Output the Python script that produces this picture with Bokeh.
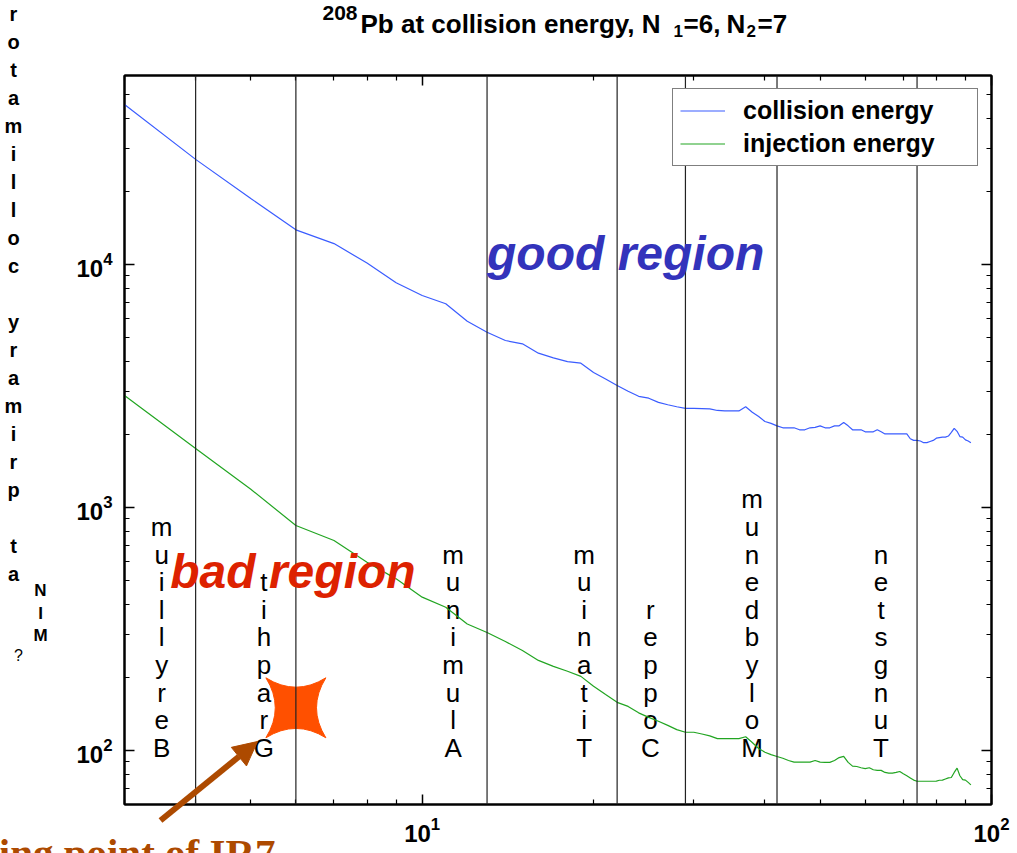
from bokeh.plotting import figure
from bokeh.models import (ColumnDataSource, FixedTicker, LogAxis, Span, Label, Arrow,
                          NormalHead, Legend, LegendItem, CustomJSTickFormatter,
                          Range1d, GridBox)
from bokeh.core.properties import value
from bokeh.embed import file_html
from bokeh.resources import INLINE

# Minimum primary collimator aperture versus jaw material atomic number Z
atomic_number = list(range(3, 93))
collision = [45600, 27100, 18700, 13900, 12200, 10150, 8420, 7460, 6900, 5850,
             5270, 4870, 4720, 4320, 4130, 3990, 3930, 3600, 3380, 3180,
             3010, 2870, 2820, 2710, 2650, 2600, 2560, 2560, 2555, 2550,
             2510, 2500, 2500, 2500, 2600, 2470, 2370, 2260, 2220, 2170,
             2130, 2130, 2130, 2090, 2090, 2130, 2140, 2170, 2130, 2130,
             2170, 2170, 2240, 2170, 2090, 2090, 2090, 2050, 2050, 2050,
             2090, 2050, 2010, 2010, 2010, 2010, 2010, 2010, 2010, 1920,
             1890, 1890, 1880, 1850, 1850, 1870, 1890, 1930, 1940, 1950,
             1950, 1970, 2040, 2120, 2060, 1960, 1950, 1900, 1880, 1850]
injection = [2890, 1750, 1190, 844, 732, 596, 509, 428, 389, 332,
             306, 281, 258, 235, 222, 212, 202, 184, 170, 158,
             152, 143, 137, 132, 127, 122, 119, 119, 117, 115,
             112, 112, 112, 112, 114, 108, 102, 98.5, 96.3, 94.6,
             93, 91, 89.6, 89.6, 89.6, 89.6, 91, 89.6, 89.4, 89.4,
             91, 93.6, 94.6, 89.4, 86.3, 86, 85, 84.3, 85, 83.4,
             82.9, 82.9, 81.3, 80.8, 80.8, 81.3, 82, 80.3, 78.8, 77.2,
             75.6, 74.8, 74.8, 74.8, 74.8, 74.8, 74.8, 74.9, 75.5, 75.6,
             76.4, 77.2, 77.5, 81.3, 84.7, 78.8, 76, 75.6, 74, 72.3]

# Jaw materials and their atomic numbers
material_z = [4, 6, 13, 22, 29, 42, 74]
material_name = ["Beryllium", "Graphit", "Aluminum", "Titanium", "Copper",
                 "Molybdenum", "Tungsten"]

# Working point of IR7
working_z = [6]
working_val = [150]

x_major = [10, 100]
x_minor = [3, 4, 5, 6, 7, 8, 9, 20, 30, 40, 50, 60, 70, 80, 90]
y_major = [100, 1000, 10000]
y_minor = [60, 70, 80, 90, 200, 300, 400, 500, 600, 700, 800, 900,
           2000, 3000, 4000, 5000, 6000, 7000, 8000, 9000,
           20000, 30000, 40000, 50000, 60000]

FONT = "Liberation Sans"
BROWN = "#ad4a00"
BLUE = "#3a5cff"
GREEN = "#22a522"
W, H = 1017, 853

p = figure(width=W, height=H, x_axis_type="log", y_axis_type="log",
           x_range=(3, 100), y_range=(60, 60000),
           output_backend="svg", toolbar_location=None,
           min_border_left=124, min_border_right=26,
           min_border_top=75, min_border_bottom=49)
p.frame_align = False
p.grid.visible = False
p.outline_line_color = "black"
p.outline_line_width = 2
p.background_fill_color = "white"
p.border_fill_color = "white"


def style_axis(ax, major, minor, show_labels):
    ax.ticker = FixedTicker(ticks=major, minor_ticks=minor)
    ax.axis_line_color = "black"
    ax.axis_line_width = 2
    ax.major_tick_in = 10
    ax.major_tick_out = 0
    ax.minor_tick_in = 5
    ax.minor_tick_out = 0
    ax.major_tick_line_color = "black"
    ax.minor_tick_line_color = "black"
    ax.major_tick_line_width = 1.5
    ax.minor_tick_line_width = 1.2
    ax.major_label_text_font = FONT
    ax.major_label_text_font_style = "bold"
    ax.major_label_text_font_size = "24px"
    ax.major_label_text_color = "black"
    ax.major_label_standoff = 12
    if not show_labels:
        ax.formatter = CustomJSTickFormatter(code="return ''")
        ax.major_label_standoff = 0


style_axis(p.xaxis[0], x_major, x_minor, True)
style_axis(p.yaxis[0], y_major, y_minor, True)
top_axis = LogAxis()
right_axis = LogAxis()
style_axis(top_axis, x_major, x_minor, False)
style_axis(right_axis, y_major, y_minor, False)
p.add_layout(top_axis, "above")
p.add_layout(right_axis, "right")

# Material boundaries
for z in material_z:
    p.add_layout(Span(location=z, dimension="height", line_color="#222222",
                      line_width=1.2))

# Material names, written letter by letter upwards
label_dx = [-34, -32, -34, -33, -35, -25, -36]
names_src = ColumnDataSource(dict(
    z=material_z,
    y=[89] * len(material_z),
    txt=["\n".join(reversed(n)) for n in material_name],
    dx=label_dx,
))
p.text(x="z", y="y", text="txt", x_offset="dx", source=names_src,
       text_font=value(FONT), text_font_size="26px", text_align="center",
       text_baseline="bottom", text_line_height=0.92, text_color="black")

src = ColumnDataSource(dict(z=atomic_number, col=collision, inj=injection))
r_col = p.line("z", "col", source=src, line_color=BLUE, line_width=1.2)
r_inj = p.line("z", "inj", source=src, line_color=GREEN, line_width=1.2)

legend = Legend(items=[LegendItem(label="collision energy", renderers=[r_col]),
                       LegendItem(label="injection energy", renderers=[r_inj])],
                location="top_right", margin=13, padding=7, spacing=4,
                glyph_width=45, glyph_height=27, label_height=27,
                label_width=227, label_standoff=18,
                label_text_font=FONT, label_text_font_style="bold",
                label_text_font_size="25px", label_text_color="black",
                border_line_color="black", border_line_width=1.5,
                background_fill_color="white", background_fill_alpha=1)
p.add_layout(legend)

# Working point marker
p.scatter(x=working_z, y=working_val, marker="square_pin", size=60,
          fill_color="#ff5000", line_color="#ff5000")

p.add_layout(Label(x=13, y=11100, text="good region", text_font=FONT,
                   text_font_style="bold italic", text_font_size="48px",
                   text_color="#3333bb", text_baseline="alphabetic"))
p.add_layout(Label(x=3.61, y=546, text="bad region", text_font=FONT,
                   text_font_style="bold italic", text_font_size="48px",
                   text_color="#dd2200", text_baseline="alphabetic"))

# Transparent overlay in page pixels for the texts around the frame
ov = figure(width=W, height=H, x_range=Range1d(0, W), y_range=Range1d(H, 0),
            output_backend="svg", toolbar_location=None,
            x_axis_location=None, y_axis_location=None, min_border=0)
ov.frame_align = False
ov.grid.visible = False
ov.outline_line_color = None
ov.background_fill_alpha = 0
ov.border_fill_alpha = 0

# Title with super- and subscripts
title_src = ColumnDataSource(dict(
    x=[322, 360, 673, 683, 726, 746, 757],
    y=[12, 23, 30, 23, 23, 30, 23],
    txt=["208", "Pb at collision energy, N", "1", "=6,", "N", "2", "=7"],
    size=["21px", "26px", "17px", "26px", "26px", "17px", "26px"],
))
ov.text(x="x", y="y", text="txt", text_font_size="size", source=title_src,
        text_font=value(FONT), text_font_style="bold", text_baseline="alphabetic",
        text_align="left", text_color="black")

# Vertical axis title, stacked letters reading upwards
ylab = list("rotamilloc") + [""] + list("yramirp") + [""] + list("ta")
ylab_src = ColumnDataSource(dict(
    x=[13] * len(ylab),
    y=[13 + 28 * k for k in range(len(ylab))],
    txt=ylab,
))
ov.text(x="x", y="y", text="txt", source=ylab_src, text_font=value(FONT),
        text_font_style="bold", text_font_size="20px", text_align="center",
        text_baseline="alphabetic", text_color="black")
sub = list("NIM")
sub_src = ColumnDataSource(dict(x=[40] * 3, y=[590 + 22.5 * k for k in range(3)], txt=sub))
ov.text(x="x", y="y", text="txt", source=sub_src, text_font=value(FONT),
        text_font_style="bold", text_font_size="17px", text_align="center",
        text_baseline="alphabetic", text_color="black")
ov.text(x=[18], y=[655], text=["?"], text_font=value(FONT), text_font_size="16px",
        text_align="center", text_baseline="alphabetic", text_color="black")

# Pointer to the working point
ov.add_layout(Arrow(end=NormalHead(size=24, fill_color=BROWN, line_color=BROWN),
                    x_start=160, y_start=820, x_end=257, y_end=741,
                    line_color=BROWN, line_width=6))
ov.text(x=[-102], y=[852], text=["Working point of IR7"],
        text_font=value("Liberation Serif"), text_font_style="bold",
        text_font_size="41px", text_color=BROWN, text_baseline="alphabetic")

layout = GridBox(children=[(p, 0, 0), (ov, 0, 0)])
open("out.html", "w").write(file_html(layout, INLINE))
